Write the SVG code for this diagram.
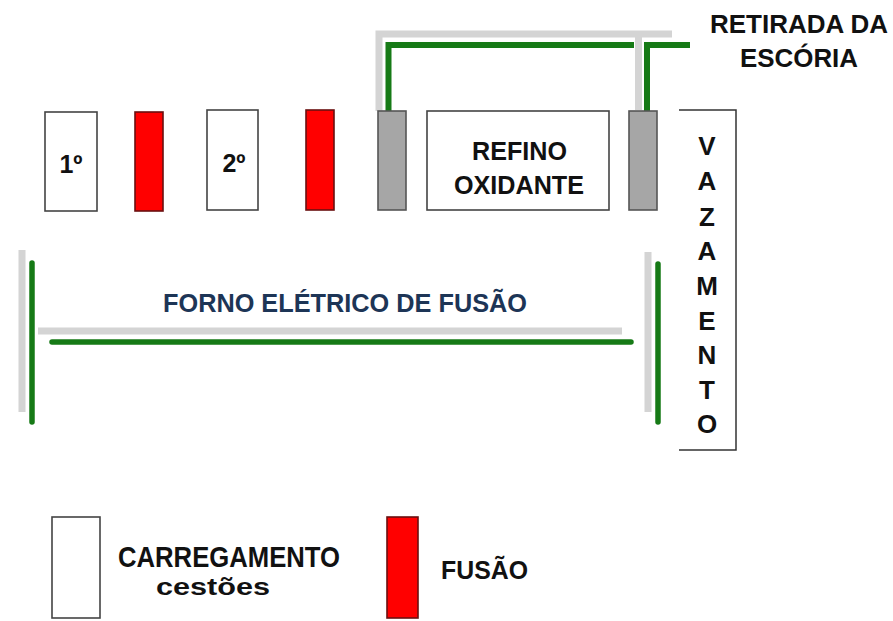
<svg xmlns="http://www.w3.org/2000/svg" width="893" height="621" viewBox="0 0 893 621">
<style>
.box{fill:#ffffff;stroke:#444444;stroke-width:1.6}
.red{fill:#ff0000;stroke:#6a1010;stroke-width:1.6}
.gray{fill:#a6a6a6;stroke:#555555;stroke-width:1.6}
.band{fill:none;stroke:#d4d4d4;stroke-width:7;stroke-linecap:butt;stroke-linejoin:miter}
.grn{fill:none;stroke:#167a16;stroke-width:6;stroke-linecap:butt;stroke-linejoin:miter}
.grnr{fill:none;stroke:#167a16;stroke-width:5.5;stroke-linecap:round}
.t{font-family:"Liberation Sans",Arial,sans-serif;font-weight:bold;fill:#111111}
.navy{fill:#1d3556}
</style>
<rect width="893" height="621" fill="#ffffff"/>
<g id="connectors">
  <path class="band" d="M379,111 V34 H672"/>
  <path class="band" d="M638.5,34 V110"/>
  <path class="grn" d="M388.5,113 V45 H634"/>
  <path class="grn" d="M647,113 V45 H690"/>
  <line class="band" x1="22" y1="250" x2="22" y2="412" stroke-width="6"/>
  <line class="grnr" x1="32" y1="263" x2="32" y2="422"/>
  <line class="band" x1="38" y1="331" x2="622" y2="331" stroke-width="6"/>
  <line class="grnr" x1="52" y1="342" x2="631" y2="342"/>
  <line class="band" x1="648" y1="252" x2="648" y2="412" stroke-width="6"/>
  <line class="grnr" x1="658" y1="264" x2="658" y2="422"/>
</g>
<g id="cesto1">
  <rect class="box" x="45" y="112" width="52" height="99"/>
  <text class="t" x="71" y="173" font-size="25" text-anchor="middle">1º</text>
</g>
<g id="fusao1"><rect class="red" x="135" y="112" width="28" height="99"/></g>
<g id="cesto2">
  <rect class="box" x="207" y="110" width="51" height="100"/>
  <text class="t" x="234" y="172" font-size="25" text-anchor="middle">2º</text>
</g>
<g id="fusao2"><rect class="red" x="306" y="110" width="28" height="100"/></g>
<g id="escoria1"><rect class="gray" x="378" y="111" width="28" height="99"/></g>
<g id="refino">
  <rect class="box" x="427" y="111" width="182" height="99"/>
  <text class="t" x="472" y="160" font-size="26" textLength="95" lengthAdjust="spacingAndGlyphs">REFINO</text>
  <text class="t" x="454" y="194" font-size="26" textLength="130" lengthAdjust="spacingAndGlyphs">OXIDANTE</text>
</g>
<g id="escoria2"><rect class="gray" x="629" y="111" width="28" height="99"/></g>
<g id="vazamento">
  <path d="M679,110 H736 V450 H679" fill="none" stroke="#333333" stroke-width="1.5"/>
  <g class="t" font-size="26" text-anchor="middle">
    <text x="707" y="155">V</text>
    <text x="707" y="190">A</text>
    <text x="707" y="226">Z</text>
    <text x="707" y="260">A</text>
    <text x="707" y="295">M</text>
    <text x="707" y="330">E</text>
    <text x="707" y="364">N</text>
    <text x="707" y="399">T</text>
    <text x="707" y="433">O</text>
  </g>
</g>
<g id="retirada">
  <text class="t" x="710" y="33" font-size="25" textLength="178" lengthAdjust="spacingAndGlyphs">RETIRADA DA</text>
  <text class="t" x="740" y="67" font-size="25" textLength="118" lengthAdjust="spacingAndGlyphs">ESCÓRIA</text>
</g>
<g id="forno">
  <text class="t navy" x="163" y="312" font-size="26" textLength="364" lengthAdjust="spacingAndGlyphs">FORNO ELÉTRICO DE FUSÃO</text>
</g>
<g id="legenda-carregamento">
  <rect class="box" x="52" y="517" width="48" height="101"/>
  <text class="t" x="118" y="567" font-size="30" textLength="222" lengthAdjust="spacingAndGlyphs">CARREGAMENTO</text>
  <text class="t" x="156" y="595" font-size="23" textLength="114" lengthAdjust="spacingAndGlyphs">cestões</text>
</g>
<g id="legenda-fusao">
  <rect class="red" x="387" y="517" width="31" height="101"/>
  <text class="t" x="441" y="579" font-size="26" textLength="87" lengthAdjust="spacingAndGlyphs">FUSÃO</text>
</g>
</svg>
